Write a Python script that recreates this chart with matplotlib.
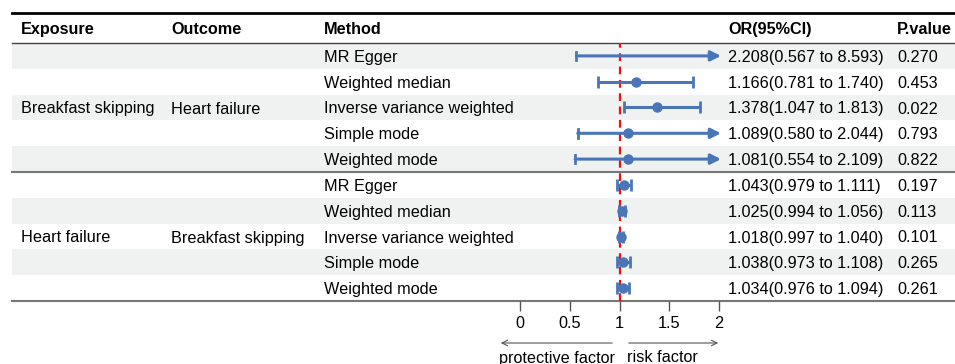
import numpy as np
import matplotlib.pyplot as plt

exposure = ["Breakfast skipping", "Heart failure"]
outcome = ["Heart failure", "Breakfast skipping"]
methods = ["MR Egger", "Weighted median", "Inverse variance weighted",
           "Simple mode", "Weighted mode"]
or_val = [2.208, 1.166, 1.378, 1.089, 1.081, 1.043, 1.025, 1.018, 1.038, 1.034]
ci_lo = [0.567, 0.781, 1.047, 0.580, 0.554, 0.979, 0.994, 0.997, 0.973, 0.976]
ci_hi = [8.593, 1.740, 1.813, 2.044, 2.109, 1.111, 1.056, 1.040, 1.108, 1.094]
pval = ["0.270", "0.453", "0.022", "0.793", "0.822",
        "0.197", "0.113", "0.101", "0.265", "0.261"]
xticks = [0, 0.5, 1, 1.5, 2]

plt.rcParams['font.family'] = ['Liberation Sans', 'DejaVu Sans']
fs = 11.7
blue = '#4a76b8'
shade = '#eff2f1'

W, H = 955, 364
fig = plt.figure(figsize=(W / 100, H / 100), dpi=100)
ax = fig.add_axes([0, 0, 1, 1])
ax.set_xlim(0, W)
ax.set_ylim(H, 0)
ax.axis('off')

top, head, rh = 13, 43, 25.8
nrow = len(or_val)
xl = 12
dy = 1.5  # text baseline nudge
cols = [21, 171, 324, 728, 897]
headers = ["Exposure", "Outcome", "Method", "OR(95%CI)", "P.value"]

# row shading
for i in range(nrow):
    if i % 2 == 0:
        ax.fill_between([xl, W], head + i * rh, head + (i + 1) * rh,
                        color=shade, lw=0, zorder=0)

ax.plot([xl, W], [top, top], color='black', lw=2)
ax.plot([xl, W], [head, head], color='#444444', lw=1)
ax.plot([xl, W], [head + 5 * rh, head + 5 * rh], color='#777777', lw=1.5)
bottom = head + nrow * rh
ax.plot([xl, W], [bottom, bottom], color='#777777', lw=1.5)

for x, t in zip(cols, headers):
    ax.text(x, (top + head) / 2 + dy, t, fontsize=fs, fontweight='bold',
            va='center', ha='left')

for i in range(nrow):
    y = head + (i + 0.5) * rh + dy
    ax.text(cols[2], y, methods[i % 5], fontsize=fs, va='center')
    ax.text(cols[3], y, f"{or_val[i]:.3f}({ci_lo[i]:.3f} to {ci_hi[i]:.3f})",
            fontsize=fs, va='center')
    ax.text(cols[4], y, pval[i], fontsize=fs, va='center')
for g in range(2):
    y = head + (g * 5 + 2.5) * rh + dy
    ax.text(cols[0], y, exposure[g], fontsize=fs, va='center')
    ax.text(cols[1], y, outcome[g], fontsize=fs, va='center')

# forest panel
x0, x1 = 520, 719
fx = fig.add_axes([x0 / W, 1 - bottom / H, (x1 - x0) / W, (bottom - head) / H])
fx.set_xlim(0, 2)
fx.set_ylim(nrow, 0)
fx.patch.set_alpha(0)
for s in ['top', 'left', 'right', 'bottom']:
    fx.spines[s].set_visible(False)
fx.set_yticks([])
fx.set_xticks(xticks)
fx.set_xticklabels([f"{t:g}" for t in xticks], fontsize=fs)
fx.tick_params(axis='x', direction='out', length=7.5, width=1, color='#555555', pad=3.5)

fx.axvline(1, color='#ee1111', lw=1.6, ls=(0, (3.5, 2.5)), zorder=1)

for i in range(nrow):
    y = i + 0.5
    lo, hi, o = ci_lo[i], ci_hi[i], or_val[i]
    if hi > 2:
        fx.annotate('', xy=(2.02, y), xytext=(lo, y),
                    arrowprops=dict(arrowstyle='-|>,head_length=0.6,head_width=0.3',
                                    color=blue, lw=2.2, shrinkA=0, shrinkB=0),
                    annotation_clip=False, zorder=3)
        fx.plot([lo, lo], [y - 0.17, y + 0.17], color=blue, lw=2, zorder=3)
        if o <= 2:
            fx.plot(o, y, 'o', color=blue, ms=6.5, zorder=4)
    else:
        fx.errorbar(o, y, xerr=[[o - lo], [hi - o]], fmt='o', color=blue,
                    ms=6.5, elinewidth=2.2, capsize=4, capthick=2, zorder=3)

# direction arrows under the axis
ya = 343
ax.annotate('', xy=(498, ya), xytext=(615, ya),
            arrowprops=dict(arrowstyle='->', color='#555555', lw=0.8))
ax.annotate('', xy=(721, ya), xytext=(626, ya),
            arrowprops=dict(arrowstyle='->', color='#555555', lw=0.8))
ax.text(499, 358, "protective factor", fontsize=fs, va='center')
ax.text(627, 358, "risk factor", fontsize=fs, va='center')

fig.savefig('out.png', dpi=100)
